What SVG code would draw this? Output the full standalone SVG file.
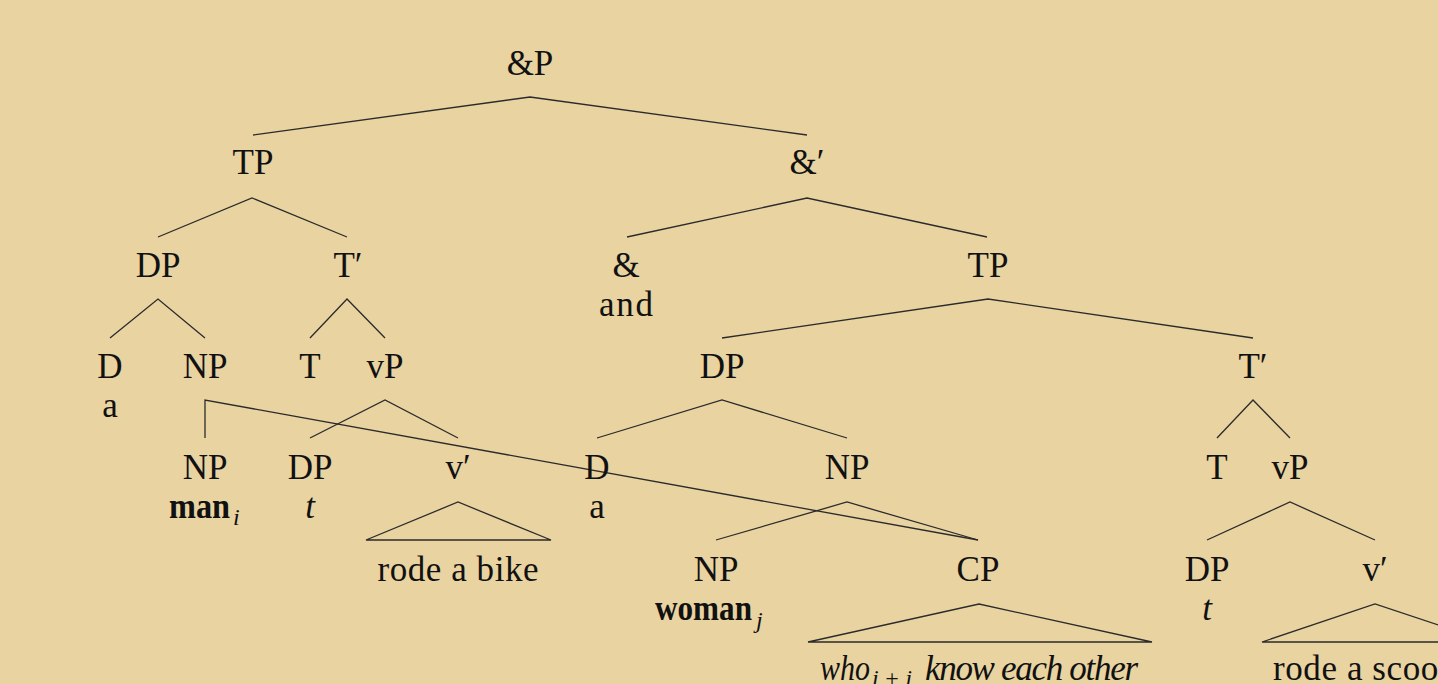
<svg xmlns="http://www.w3.org/2000/svg" width="1438" height="684" viewBox="0 0 1438 684">
  <style>
    text { font-family: "Liberation Serif", "DejaVu Serif", serif; font-size: 35px; fill: #111; text-anchor: middle; }
    .it { font-style: italic; }
    .bd { font-weight: bold; }
    .st { text-anchor: start; }
    .sub { font-size: 24px; font-style: italic; text-anchor: start; }
    .edges path { fill: none; stroke: #2b2b2b; stroke-width: 1.3; stroke-linejoin: miter; }
  </style>
  <rect x="0" y="0" width="1438" height="684" fill="#E8D3A1"/>

  <!-- tree branches -->
  <g class="edges" id="connectors">
    <path d="M253,135 L530,97 L807,135"/>
    <path d="M158,237 L252,198 L347,237"/>
    <path d="M627,237 L807,198 L987,237"/>
    <path d="M110,338 L158,299 L205,338"/>
    <path d="M310,338 L347,299 L385,338"/>
    <path d="M722,338 L988,299 L1253,338"/>
    <path d="M205,438 L205,400 L978,540"/>
    <path d="M310,438 L385,400 L458,438"/>
    <path d="M597,438 L722,400 L847,438"/>
    <path d="M1217,438 L1253,400 L1290,438"/>
    <path d="M716,540 L847,502 L978,540"/>
    <path d="M1207,540 L1290,502 L1375,540"/>
    <!-- roof triangles -->
    <path d="M366,540 L458,502 L551,540 Z"/>
    <path d="M808,642 L979,604 L1152,642 Z"/>
    <path d="M1262,642 L1375,604 L1490,642 Z"/>
  </g>

  <g id="andP"><text x="530" y="75">&amp;P</text></g>
  <g id="tp1"><text x="253" y="174">TP</text></g>
  <g id="andbar"><text x="807" y="174">&amp;′</text></g>
  <g id="dp1"><text x="158" y="277">DP</text></g>
  <g id="tbar1"><text x="348" y="277">T′</text></g>
  <g id="and"><text x="626" y="277">&amp;</text><text x="626" y="316" textLength="54">and</text></g>
  <g id="tp2"><text x="988" y="277">TP</text></g>

  <g id="d1"><text x="110" y="378">D</text><text x="110" y="417">a</text></g>
  <g id="np1"><text x="205" y="378">NP</text></g>
  <g id="t1"><text x="310" y="378">T</text></g>
  <g id="vp1"><text x="385" y="378">vP</text></g>
  <g id="dp2"><text x="722" y="378">DP</text></g>
  <g id="tbar2"><text x="1253" y="378">T′</text></g>

  <g id="np2"><text x="205" y="479">NP</text><text class="bd st" x="169" y="518" textLength="61" lengthAdjust="spacingAndGlyphs">man</text><text class="sub" x="233" y="525">i</text></g>
  <g id="dp3"><text x="310" y="479">DP</text><text class="it" x="310" y="518">t</text></g>
  <g id="vbar1"><text x="458" y="479">v′</text></g>
  <g id="d2"><text x="597" y="479">D</text><text x="597" y="518">a</text></g>
  <g id="np3"><text x="847" y="479">NP</text></g>
  <g id="t2"><text x="1217" y="479">T</text></g>
  <g id="vp2"><text x="1290" y="479">vP</text></g>

  <g id="roof1"><text x="458" y="581" textLength="161">rode a bike</text></g>
  <g id="np4"><text x="716" y="581">NP</text><text class="bd st" x="655" y="620" textLength="97" lengthAdjust="spacingAndGlyphs">woman</text><text class="sub" x="756" y="628">j</text></g>
  <g id="cp"><text x="978" y="581">CP</text></g>
  <g id="dp4"><text x="1207" y="581">DP</text><text class="it" x="1207" y="620">t</text></g>
  <g id="vbar2"><text x="1375" y="581">v′</text></g>

  <g id="roof2">
    <text class="it st" x="820" y="680" textLength="50" lengthAdjust="spacingAndGlyphs">who</text>
    <text class="sub" x="872" y="686" textLength="40"><tspan>i</tspan><tspan font-style="normal">+</tspan><tspan>j</tspan></text>
    <text class="it st" x="925" y="680" textLength="213">know each other</text>
  </g>
  <g id="roof3"><text class="st" x="1273" y="680" textLength="204">rode a scooter</text></g>
</svg>
